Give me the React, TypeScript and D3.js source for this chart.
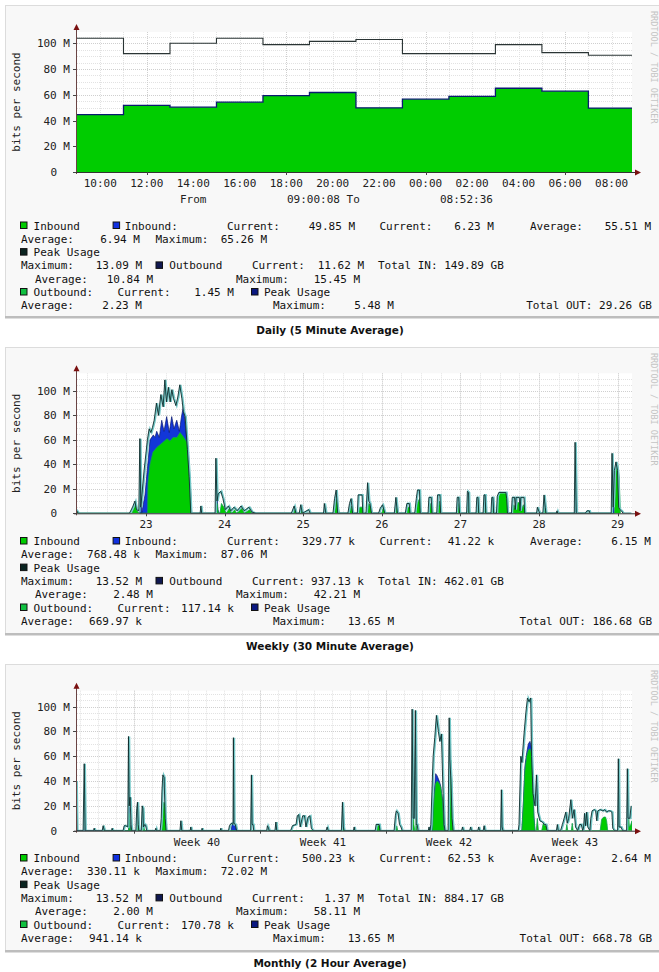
import React from "react";
import * as d3 from "d3";

type Pt = [number, number];

// ---------------- DAILY DATA (hours since midnight of day 1, Mbit/s) ----------------
const dailyStepHours = [9, 11, 13, 15, 17, 19, 21, 23, 25, 27, 29, 31, 32.876];
const dailyInbound = [44.6, 51.7, 50.4, 54.3, 59.4, 61.8, 49.9, 56.6, 58.7, 65.1, 62.8, 49.7, 49.7];
const dailyPeak = [104, 92, 100, 104, 99, 101.5, 103, 92, 92, 99, 92.8, 90.7, 90.7];
const dailyTicks = [10, 12, 14, 16, 18, 20, 22, 24, 26, 28, 30, 32];

// ---------------- WEEKLY DATA (day of month, Mbit/s) ----------------
const weeklyTicks = [23, 24, 25, 26, 27, 28, 29];
const weeklyPeak: Pt[] = [
  [22.12, 3], [22.15, 0], [22.8, 0], [22.84, 5], [22.87, 10], [22.89, 3], [22.92, 2], [22.933, 61], [22.945, 5],
  [22.987, 35], [23.029, 60], [23.051, 69], [23.073, 66], [23.093, 70], [23.115, 76], [23.144, 90], [23.169, 80],
  [23.2, 97], [23.229, 87], [23.251, 109], [23.271, 91], [23.296, 103], [23.318, 91], [23.34, 101], [23.36, 94],
  [23.391, 88], [23.416, 95], [23.441, 105], [23.467, 94], [23.487, 83], [23.509, 79], [23.538, 52], [23.56, 30], [23.581, 0],
  [23.7, 0], [23.709, 6], [23.72, 0],
  [23.89, 0], [23.9, 45], [23.915, 10], [23.93, 16], [23.963, 18], [23.99, 12], [24.02, 3], [24.06, 6], [24.09, 2],
  [24.13, 5], [24.17, 2], [24.22, 6], [24.26, 2], [24.32, 5], [24.36, 1], [24.41, 0],
  [24.86, 0], [24.896, 6], [24.92, 0], [24.96, 0], [24.98, 7], [25.0, 0], [25.08, 3], [25.1, 0], [25.27, 0], [25.28, 8], [25.3, 0],
  [25.39, 0], [25.41, 12], [25.43, 19], [25.45, 0],
  [25.58, 0], [25.6, 8], [25.62, 12], [25.64, 0],
  [25.7, 0], [25.71, 15], [25.76, 15], [25.77, 0],
  [25.81, 0], [25.83, 25], [25.845, 10], [25.86, 8], [25.88, 0],
  [25.97, 0], [25.99, 4], [26.02, 7], [26.05, 0],
  [26.17, 0], [26.19, 13], [26.21, 0],
  [26.31, 0], [26.33, 8], [26.36, 8], [26.37, 0],
  [26.43, 0], [26.45, 12], [26.465, 19], [26.49, 19], [26.5, 0],
  [26.6, 0], [26.61, 13], [26.64, 13], [26.65, 0],
  [26.71, 0], [26.72, 15], [26.75, 15], [26.76, 0],
  [26.96, 0], [26.97, 13], [26.99, 13], [27.0, 0],
  [27.09, 0], [27.1, 18], [27.115, 17], [27.12, 0],
  [27.21, 0], [27.22, 13], [27.235, 13], [27.245, 0],
  [27.3, 0], [27.31, 15], [27.325, 15], [27.335, 0],
  [27.4, 0], [27.41, 13], [27.425, 13], [27.435, 0],
  [27.47, 0], [27.48, 14], [27.5, 17], [27.59, 17], [27.6, 12], [27.61, 0],
  [27.66, 0], [27.67, 13], [27.7, 13], [27.71, 3], [27.72, 13], [27.76, 13], [27.77, 2], [27.78, 13], [27.82, 13], [27.83, 0],
  [27.98, 0], [27.99, 5], [28.02, 0], [28.06, 0], [28.075, 15], [28.09, 5], [28.1, 0],
  [28.23, 0], [28.24, 2], [28.25, 0],
  [28.46, 0], [28.47, 58], [28.485, 0],
  [28.6, 0], [28.62, 2], [28.65, 2], [28.66, 0],
  [28.93, 0], [28.94, 49], [28.955, 5], [28.97, 35], [28.99, 42], [29.01, 35], [29.025, 5], [29.04, 3], [29.06, 2], [29.08, 0], [29.18, 0],
];
const weeklyBlue: Pt[] = [
  [22.92, 0], [22.933, 22], [22.945, 0], [22.987, 15], [23.03, 45], [23.051, 60], [23.093, 64], [23.115, 62], [23.136, 67],
  [23.169, 62], [23.2, 76], [23.229, 67], [23.263, 79], [23.296, 66], [23.327, 79], [23.356, 69], [23.391, 76], [23.424, 67],
  [23.454, 80], [23.475, 87], [23.5, 72], [23.52, 60], [23.538, 50], [23.56, 28], [23.581, 0],
  [23.89, 0], [23.9, 18], [23.915, 3], [23.93, 0],
  [28.46, 0], [28.47, 22], [28.485, 0],
  [28.93, 0], [28.94, 15], [28.955, 0],
];
const weeklyGreen: Pt[] = [
  [22.12, 2], [22.14, 0], [22.82, 0], [22.84, 3], [22.87, 8], [22.89, 2], [22.91, 0],
  [23.02, 0], [23.025, 25], [23.051, 40], [23.089, 50], [23.14, 54], [23.178, 56], [23.216, 58], [23.267, 61], [23.305, 59],
  [23.344, 62], [23.394, 62], [23.433, 66], [23.47, 63], [23.52, 58], [23.538, 45], [23.56, 25], [23.581, 0],
  [23.9, 0], [23.905, 8], [23.92, 0], [23.94, 0], [23.96, 8], [23.99, 5], [24.02, 0], [24.06, 4], [24.09, 0], [24.13, 3], [24.15, 0],
  [24.22, 4], [24.25, 0], [24.32, 3], [24.35, 0], [24.88, 0], [24.896, 4], [24.92, 0], [24.97, 0], [24.98, 5], [25.0, 0],
  [25.27, 0], [25.28, 6], [25.3, 0],
  [25.4, 0], [25.42, 12], [25.44, 8], [25.46, 0],
  [25.59, 0], [25.61, 6], [25.63, 0],
  [25.7, 0], [25.72, 5], [25.75, 5], [25.77, 0],
  [25.82, 0], [25.835, 8], [25.86, 5], [25.88, 0],
  [26.0, 0], [26.02, 5], [26.05, 0],
  [26.17, 0], [26.19, 10], [26.21, 0],
  [26.31, 0], [26.33, 5], [26.36, 5], [26.37, 0],
  [26.43, 0], [26.45, 8], [26.48, 12], [26.5, 0],
  [26.6, 0], [26.62, 8], [26.65, 0],
  [26.71, 0], [26.73, 10], [26.76, 0],
  [26.96, 0], [26.98, 8], [27.0, 0],
  [27.09, 0], [27.105, 14], [27.12, 0],
  [27.21, 0], [27.225, 8], [27.245, 0],
  [27.3, 0], [27.315, 10], [27.335, 0],
  [27.4, 0], [27.415, 8], [27.435, 0],
  [27.47, 0], [27.48, 14], [27.5, 17], [27.59, 17], [27.6, 12], [27.61, 0],
  [27.66, 0], [27.68, 7], [27.7, 3], [27.73, 9], [27.76, 8], [27.78, 3], [27.8, 7], [27.83, 0],
  [28.06, 0], [28.075, 8], [28.09, 0],
  [28.96, 0], [28.98, 35], [29.0, 40], [29.02, 30], [29.035, 0],
];

// ---------------- MONTHLY DATA (days from start of week 40, Mbit/s) ----------------
const monthlyWeekLabels = ["Week 40", "Week 41", "Week 42", "Week 43"];
const monthlyWeekCenters = [3.5, 10.5, 17.5, 24.5];
const monthlyWeekStarts = [0, 7, 14, 21];
const monthlyPeak: Pt[] = [
  [-3.17, 40], [-3.13, 0], [-2.78, 0], [-2.72, 54], [-2.67, 0], [-2.2, 0], [-2.17, 2], [-2.13, 0],
  [-1.72, 0], [-1.67, 4], [-1.6, 0], [-1.2, 0], [-1.17, 2], [-1.13, 0],
  [-0.56, 0], [-0.5, 4], [-0.42, 4], [-0.3, 3], [-0.26, 76], [-0.22, 20], [-0.17, 27], [-0.12, 5], [-0.08, 0],
  [0.15, 0], [0.2, 18], [0.24, 23], [0.28, 5], [0.32, 0],
  [0.45, 0], [0.5, 20], [0.54, 18], [0.57, 3], [0.65, 5], [0.7, 4], [0.75, 0],
  [1.22, 0], [1.26, 2], [1.3, 0],
  [1.5, 0], [1.56, 10], [1.6, 32], [1.65, 45], [1.72, 43], [1.78, 10], [1.83, 0],
  [2.6, 0], [2.65, 8], [2.7, 0], [3.17, 0], [3.2, 3], [3.24, 0], [3.8, 0], [3.83, 2], [3.86, 0], [4.84, 0], [4.87, 2], [4.9, 0],
  [5.3, 0], [5.35, 4], [5.45, 6], [5.55, 5], [5.57, 75], [5.6, 6], [5.68, 5], [5.75, 0],
  [6.53, 0], [6.57, 45], [6.61, 5], [6.66, 5], [6.7, 0],
  [7.42, 0], [7.46, 4], [7.52, 2], [7.56, 0], [7.88, 0], [7.93, 7], [7.98, 0],
  [8.75, 0], [8.85, 4], [9.05, 5], [9.12, 12], [9.2, 13], [9.28, 3], [9.42, 12], [9.52, 12], [9.6, 3], [9.72, 11], [9.82, 12], [9.9, 2], [10.0, 0],
  [10.72, 0], [10.78, 3], [10.84, 0],
  [11.57, 0], [11.63, 23], [11.68, 3], [11.72, 0],
  [12.24, 0], [12.28, 3], [12.32, 0],
  [13.45, 0], [13.5, 5], [13.67, 5], [13.72, 0],
  [14.5, 0], [14.57, 12], [14.62, 16], [14.72, 14], [14.8, 5], [14.88, 3], [14.95, 0],
  [15.45, 0], [15.5, 98], [15.56, 10], [15.62, 10], [15.68, 97], [15.73, 5], [15.78, 5], [15.83, 0],
  [16.4, 0], [16.44, 3], [16.48, 0],
  [16.5, 0], [16.54, 5], [16.67, 60], [16.76, 75], [16.85, 93], [16.96, 80], [17.04, 72], [17.13, 78], [17.22, 30], [17.28, 5], [17.33, 0],
  [17.5, 0], [17.56, 91], [17.6, 57], [17.66, 40], [17.72, 10], [17.78, 0],
  [18.25, 0], [18.3, 3], [18.35, 0], [18.7, 0], [18.75, 3], [18.8, 0], [19.15, 0], [19.2, 3], [19.25, 0], [19.45, 0], [19.5, 4], [19.55, 0],
  [20.42, 0], [20.46, 33], [20.5, 3], [20.55, 0],
  [21.4, 0], [21.44, 5], [21.54, 60], [21.6, 55], [21.72, 78], [21.82, 95], [21.91, 107], [22.0, 104], [22.09, 107], [22.14, 60],
  [22.22, 30], [22.33, 20], [22.41, 45], [22.48, 15], [22.6, 8], [22.74, 7], [22.85, 5], [22.93, 5], [23.0, 0],
  [23.52, 0], [23.57, 5], [23.62, 0],
  [23.75, 0], [23.85, 5], [23.95, 10], [24.04, 15], [24.12, 6], [24.2, 10], [24.32, 25], [24.4, 10], [24.5, 17], [24.58, 3], [24.7, 0],
  [24.8, 5], [24.9, 5], [24.98, 0], [25.03, 3], [25.08, 14], [25.14, 4], [25.2, 15], [25.26, 3], [25.38, 0],
  [25.43, 10], [25.5, 16], [25.62, 17], [25.7, 16], [25.76, 8], [25.82, 16], [25.95, 17], [26.1, 16], [26.2, 17], [26.3, 15],
  [26.4, 16], [26.5, 16], [26.6, 15], [26.65, 2], [26.75, 0],
  [26.92, 0], [26.96, 58], [27.0, 3], [27.1, 3], [27.2, 0],
  [27.42, 0], [27.46, 50], [27.5, 10], [27.6, 10], [27.67, 20],
];
const monthlyBlue: Pt[] = [
  [-3.17, 4], [-3.13, 0], [-2.76, 0], [-2.72, 5], [-2.68, 0], [-0.3, 0], [-0.26, 19], [-0.22, 5], [-0.18, 0],
  [5.4, 0], [5.45, 6], [5.57, 7], [5.62, 4], [5.7, 0],
  [16.58, 0], [16.67, 28], [16.76, 46], [16.85, 44], [16.96, 40], [17.04, 36], [17.13, 26], [17.2, 5], [17.24, 0],
  [21.55, 0], [21.63, 22], [21.72, 52], [21.82, 63], [21.91, 70], [22.0, 72], [22.09, 66], [22.14, 48], [22.22, 12], [22.28, 0],
];
const monthlyGreen: Pt[] = [
  [-1.72, 0], [-1.67, 4], [-1.6, 0], [-0.3, 0], [-0.26, 14], [-0.22, 3], [-0.18, 0],
  [0.15, 0], [0.2, 18], [0.24, 22], [0.28, 4], [0.32, 0], [0.45, 0], [0.5, 18], [0.54, 15], [0.57, 2], [0.6, 0],
  [1.55, 0], [1.6, 15], [1.65, 23], [1.72, 22], [1.78, 5], [1.83, 0],
  [7.88, 0], [7.93, 7], [7.98, 0], [11.58, 0], [11.63, 6], [11.68, 0], [13.48, 0], [13.52, 5], [13.64, 5], [13.7, 0],
  [14.55, 0], [14.6, 4], [14.65, 0],
  [15.45, 0], [15.5, 27], [15.55, 5], [15.6, 0], [15.65, 0], [15.68, 10], [15.72, 0],
  [16.58, 0], [16.67, 25], [16.76, 38], [16.85, 40], [16.96, 38], [17.04, 35], [17.13, 25], [17.2, 5], [17.24, 0],
  [17.52, 0], [17.56, 20], [17.6, 57], [17.66, 38], [17.72, 8], [17.78, 0],
  [21.55, 0], [21.63, 20], [21.72, 48], [21.82, 60], [21.91, 65], [22.0, 66], [22.09, 62], [22.14, 45], [22.22, 10], [22.28, 0],
  [22.35, 0], [22.41, 10], [22.47, 0], [22.65, 0], [22.74, 6], [22.85, 4], [22.93, 5], [23.0, 0],
  [24.0, 0], [24.05, 5], [24.1, 0], [24.3, 0], [24.35, 6], [24.4, 0],
  [25.9, 0], [25.98, 9], [26.1, 11], [26.2, 11], [26.26, 8], [26.32, 0],
  [27.42, 0], [27.47, 19], [27.52, 3], [27.6, 5], [27.67, 8],
];

// ---------------- LEGEND VALUES ----------------
const dailyLegendValues = ["49.85 M", "6.23 M", "55.51 M", "6.94 M", "65.26 M", "13.09 M", "11.62 M", "149.89 GB", "10.84 M", "15.45 M", "1.45 M", "2.23 M", "5.48 M", "29.26 GB"];
const weeklyLegendValues = ["329.77 k", "41.22 k", "6.15 M", "768.48 k", "87.06 M", "13.52 M", "937.13 k", "462.01 GB", "2.48 M", "42.21 M", "117.14 k", "669.97 k", "13.65 M", "186.68 GB"];
const monthlyLegendValues = ["500.23 k", "62.53 k", "2.64 M", "330.11 k", "72.02 M", "13.52 M", "1.37 M", "884.17 GB", "2.00 M", "58.11 M", "170.78 k", "941.14 k", "13.65 M", "668.78 GB"];
const yTickValues = [0, 20, 40, 60, 80, 100];

// ---------------- STYLE ----------------
const GREEN = "#00cc00";
const BLUE = "#1236d8";
const NAVY = "#0a1a70";
const TEAL = "#74c8c8";
const DARK = "#0d2b2b";
const MONO = "'DejaVu Sans Mono', monospace";
const PL = 77;
const PR = 632;
const PH = 140;
const LEG_FS = 11;

type Tok = { x: number; t?: string; v?: number; end?: boolean; sq?: string; pre?: string };
const legendTemplate: Tok[][] = [
  [{ x: 20, sq: GREEN }, { x: 33.6, t: "Inbound" }, { x: 112.6, sq: "#1030e0" }, { x: 124.8, t: "Inbound:" }, { x: 227, t: "Current:" }, { x: 355, v: 0, end: true }, { x: 379.4, t: "Current:" }, { x: 494, v: 1, end: true }, { x: 530, t: "Average:" }, { x: 651, v: 2, end: true }],
  [{ x: 21, t: "Average:" }, { x: 140, v: 3, end: true }, { x: 155.5, t: "Maximum:" }, { x: 267, v: 4, end: true }],
  [{ x: 20, sq: "#0a2420" }, { x: 33.6, t: "Peak Usage" }],
  [{ x: 21, t: "Maximum:" }, { x: 142, v: 5, end: true }, { x: 155.5, sq: "#101850" }, { x: 169.3, t: "Outbound" }, { x: 252, t: "Current:" }, { x: 364, v: 6, end: true }, { x: 378, v: 7, pre: "Total IN: " }],
  [{ x: 35, t: "Average:" }, { x: 153, v: 8, end: true }, { x: 236, t: "Maximum:" }, { x: 360, v: 9, end: true }],
  [{ x: 20, sq: "#10c040" }, { x: 33.6, t: "Outbound:" }, { x: 117.6, t: "Current:" }, { x: 234, v: 10, end: true }, { x: 251, sq: "#0a1880" }, { x: 264, t: "Peak Usage" }],
  [{ x: 21, t: "Average:" }, { x: 142, v: 11, end: true }, { x: 273, t: "Maximum:" }, { x: 394, v: 12, end: true }, { x: 652, v: 13, pre: "Total OUT: ", end: true }],
];

interface Cfg {
  key: string;
  top: number;
  bottom: number;
  zeroY: number;
  yMax: number;
  xDomain: [number, number];
  minor: number[];
  major: number[];
  labels: { t: number; s: string }[];
  legendY: number;
  legendValues: string[];
  title: string;
  titleY: number;
  kind: "daily" | "spiky";
  peak: Pt[];
  blue: Pt[];
  green: Pt[];
  fromTo?: boolean;
}

const pad2 = (n: number) => String(n).padStart(2, "0");

const dailyCfg: Cfg = {
  key: "daily",
  top: 5,
  bottom: 316,
  zeroY: 172,
  yMax: 108.8,
  xDomain: [9, 32.876],
  minor: d3.range(10, 33, 1),
  major: [12, 18, 24, 30],
  labels: dailyTicks.map((t) => ({ t, s: `${pad2(t % 24)}:00` })),
  legendY: 225.5,
  legendValues: dailyLegendValues,
  title: "Daily (5 Minute Average)",
  titleY: 334,
  kind: "daily",
  peak: dailyStepHours.map((h, i) => [h, dailyPeak[i]] as Pt),
  blue: [],
  green: dailyStepHours.map((h, i) => [h, dailyInbound[i]] as Pt),
  fromTo: true,
};

const weeklyCfg: Cfg = {
  key: "weekly",
  top: 347,
  bottom: 633,
  zeroY: 513.3,
  yMax: 114.4,
  xDomain: [22.122, 29.183],
  minor: d3.range(22.25, 29.2, 0.25),
  major: weeklyTicks,
  labels: weeklyTicks.map((t) => ({ t, s: String(t) })),
  legendY: 541,
  legendValues: weeklyLegendValues,
  title: "Weekly (30 Minute Average)",
  titleY: 650,
  kind: "spiky",
  peak: weeklyPeak,
  blue: weeklyBlue,
  green: weeklyGreen,
};

const monthlyCfg: Cfg = {
  key: "monthly",
  top: 664,
  bottom: 950,
  zeroY: 830.7,
  yMax: 112.9,
  xDomain: [-3.17, 27.67],
  minor: d3.range(-3, 28, 1),
  major: monthlyWeekStarts,
  labels: monthlyWeekCenters.map((t, i) => ({ t, s: monthlyWeekLabels[i] })),
  legendY: 858,
  legendValues: monthlyLegendValues,
  title: "Monthly (2 Hour Average)",
  titleY: 967,
  kind: "spiky",
  peak: monthlyPeak,
  blue: monthlyBlue,
  green: monthlyGreen,
};

const graphs = [dailyCfg, weeklyCfg, monthlyCfg];

function Graph({ cfg }: { cfg: Cfg }) {
  const x = d3.scaleLinear().domain(cfg.xDomain).range([PL, PR]);
  const y = d3.scaleLinear().domain([0, cfg.yMax]).range([cfg.zeroY, cfg.zeroY - PH]);
  const plotTop = cfg.zeroY - PH;
  const clipId = `clip-${cfg.key}`;
  const curve = cfg.kind === "daily" ? d3.curveStepAfter : d3.curveLinear;
  const area = d3
    .area<Pt>()
    .x((d) => x(d[0]))
    .y0(y(0))
    .y1((d) => y(d[1]))
    .curve(curve);
  const line = d3
    .line<Pt>()
    .x((d) => x(d[0]))
    .y((d) => y(d[1]))
    .curve(curve);
  const hMinor = d3.range(5, cfg.yMax, 5);
  const rowH = 13.3;

  return (
    <g>
      {/* panel */}
      <rect x={5.5} y={cfg.top + 0.5} width={660} height={cfg.bottom - cfg.top} fill="#f8f8f8" stroke="#dcdcdc" />
      <rect x={5} y={cfg.bottom} width={660} height={2.5} fill="#bdbdbd" />
      <rect x={PL} y={plotTop} width={PR - PL} height={PH} fill="#ffffff" />
      {/* grid */}
      {hMinor.map((v) => (
        <line key={"h" + v} x1={PL} x2={PR} y1={Math.round(y(v)) + 0.5} y2={Math.round(y(v)) + 0.5}
          stroke={v % 20 === 0 ? "#cfcfcf" : "#e2e2e2"} strokeDasharray="1,1" />
      ))}
      {cfg.minor.map((t) => (
        <line key={"v" + t} x1={Math.round(x(t)) + 0.5} x2={Math.round(x(t)) + 0.5} y1={plotTop} y2={cfg.zeroY}
          stroke="#e2e2e2" strokeDasharray="1,1" />
      ))}
      {cfg.major.map((t) => (
        <line key={"m" + t} x1={Math.round(x(t)) + 0.5} x2={Math.round(x(t)) + 0.5} y1={plotTop} y2={cfg.zeroY}
          stroke="#cfcfcf" strokeDasharray="1,1" />
      ))}
      <defs>
        <clipPath id={clipId}>
          <rect x={PL} y={plotTop - 2} width={PR - PL} height={PH + 2} />
        </clipPath>
      </defs>
      {/* data */}
      <g clipPath={`url(#${clipId})`}>
        {cfg.kind === "daily" ? (
          <>
            <path d={area(cfg.green) || ""} fill={GREEN} />
            <path d={line(cfg.green) || ""} fill="none" stroke={NAVY} strokeWidth={1.3} />
            <path d={line(cfg.peak) || ""} fill="none" stroke="#2a3434" strokeWidth={1.1} />
          </>
        ) : (
          <>
            <path d={area(cfg.blue) || ""} fill={BLUE} stroke={NAVY} strokeWidth={0.7} />
            <path d={area(cfg.green) || ""} fill={GREEN} stroke="#14a050" strokeWidth={0.8} />
            <path d={line(cfg.peak) || ""} fill="none" stroke={TEAL} strokeWidth={1.8} />
            <path d={line(cfg.peak) || ""} fill="none" stroke={DARK} strokeWidth={0.9} transform="translate(-0.9,0)" />
          </>
        )}
      </g>
      {/* axes */}
      <line x1={PL - 0.5} x2={PL - 0.5} y1={cfg.zeroY + 2} y2={plotTop - 4} stroke="#6a4444" />
      <path d={`M${PL - 3.5},${plotTop - 2} L${PL - 0.5},${plotTop - 8} L${PL + 2.5},${plotTop - 2} Z`} fill="#7a1010" />
      <line x1={PL - 3} x2={PR + 4} y1={cfg.zeroY + 0.5} y2={cfg.zeroY + 0.5} stroke="#333" />
      <path d={`M${PR + 3},${cfg.zeroY - 2.5} L${PR + 9},${cfg.zeroY + 0.5} L${PR + 3},${cfg.zeroY + 3.5} Z`} fill="#7a1010" />
      {yTickValues.map((v) => (
        <g key={"yt" + v}>
          <line x1={PL - 4} x2={PL - 1} y1={Math.round(y(v)) + 0.5} y2={Math.round(y(v)) + 0.5} stroke="#444" />
          <text x={v === 0 ? 57 : 70} y={y(v) + 4} textAnchor="end" fontSize={11} fill="#222" fontFamily={MONO}>
            {v === 0 ? "0" : `${v} M`}
          </text>
        </g>
      ))}
      {cfg.major.map((t) => (
        <line key={"xt" + t} x1={Math.round(x(t)) + 0.5} x2={Math.round(x(t)) + 0.5} y1={cfg.zeroY} y2={cfg.zeroY + 3} stroke="#444" />
      ))}
      {cfg.labels.map((l) => (
        <text key={"xl" + l.s} x={x(l.t)} y={cfg.zeroY + 15} textAnchor="middle" fontSize={11} fill="#222" fontFamily={MONO}>
          {l.s}
        </text>
      ))}
      {cfg.fromTo && (
        <g fontSize={11} fill="#222" fontFamily={MONO}>
          <text x={180} y={cfg.zeroY + 31}>From</text>
          <text x={287} y={cfg.zeroY + 31}>09:00:08 To</text>
          <text x={440} y={cfg.zeroY + 31}>08:52:36</text>
        </g>
      )}
      {/* y title */}
      <text transform={`translate(20,${(plotTop + cfg.zeroY) / 2}) rotate(-90)`} textAnchor="middle" fontSize={11} fill="#222" fontFamily={MONO}>
        bits per second
      </text>
      {/* watermark */}
      <text transform={`translate(651,${cfg.top + 6}) rotate(90)`} fontSize={8.5} fill="#c4c4c4" fontFamily={MONO}>
        RRDTOOL / TOBI OETIKER
      </text>
      {/* legend */}
      {legendTemplate.map((row, ri) => {
        const cy = cfg.legendY + ri * rowH;
        return (
          <g key={"lr" + ri}>
            {row.map((tok, ti) =>
              tok.sq ? (
                <rect key={ti} x={tok.x + 0.5} y={cy - 3.5} width={6.5} height={6.5} fill={tok.sq} stroke="#111" strokeWidth={1} />
              ) : (
                <text key={ti} x={tok.x} y={cy + 4} textAnchor={tok.end ? "end" : "start"} fontSize={LEG_FS} fill="#111" fontFamily={MONO}
                  style={{ whiteSpace: "pre" }}>
                  {tok.t ?? `${tok.pre ?? ""}${cfg.legendValues[tok.v as number]}`}
                </text>
              )
            )}
          </g>
        );
      })}
      {/* title */}
      <text x={330} y={cfg.titleY} textAnchor="middle" fontSize={10.5} fontWeight="bold" fill="#111" fontFamily="'DejaVu Sans', Verdana, sans-serif">
        {cfg.title}
      </text>
    </g>
  );
}

export default function App() {
  return (
    <svg width={659} height={972} style={{ position: "absolute", left: 0, top: 0, background: "#fff" }}>
      {graphs.map((g) => (
        <Graph key={g.key} cfg={g} />
      ))}
    </svg>
  );
}
